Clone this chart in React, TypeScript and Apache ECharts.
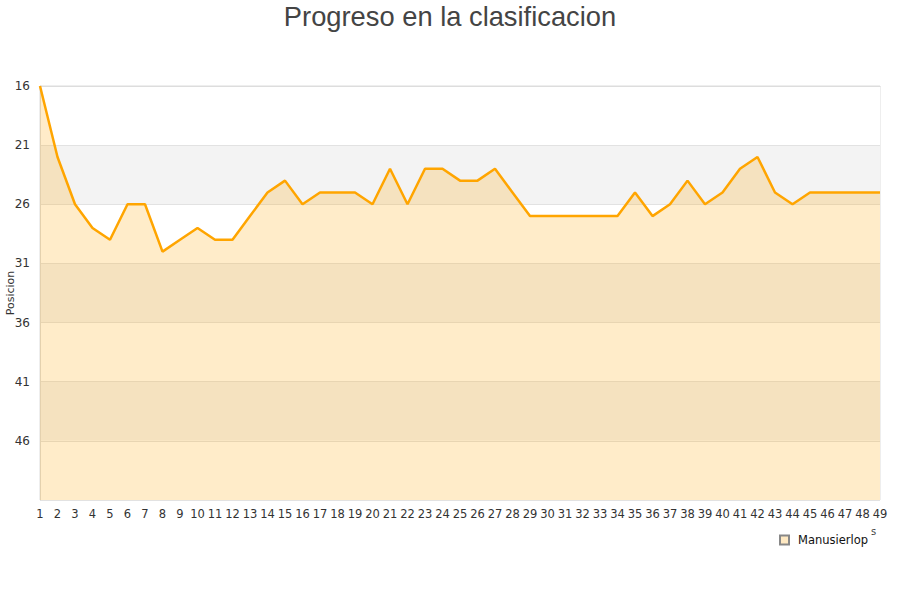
import React, { useEffect, useRef } from "react";
import * as echarts from "echarts";

const TITLE = "Progreso en la clasificacion";
const SERIES_NAME = "Manusierlop";
const Y_NAME = "Posicion";
const Y_MIN = 16;
const Y_MAX = 51;
const Y_STEP = 5;

const jornadas: string[] = Array.from({ length: 49 }, (_, i) => String(i + 1));

const posiciones: number[] = [
  16, 22, 26, 28, 29, 26, 26, 30, 29, 28,
  29, 29, 27, 25, 24, 26, 25, 25, 25, 26,
  23, 26, 23, 23, 24, 24, 23, 25, 27, 27,
  27, 27, 27, 27, 25, 27, 26, 24, 26, 25,
  23, 22, 25, 26, 25, 25, 25, 25, 25,
];

export default function App() {
  const ref = useRef<HTMLDivElement>(null);
  useEffect(() => {
    if (!ref.current) return;
    const chart = echarts.init(ref.current, null, { renderer: "svg" });
    const shifted = posiciones.map((v) => v - Y_MIN);
    chart.setOption({
      animation: false,
      backgroundColor: "#ffffff",
      title: {
        text: TITLE,
        left: "center",
        top: -2,
        textStyle: {
          fontFamily: "Liberation Sans",
          fontSize: 27.3,
          fontWeight: "normal",
          color: "#444444",
        },
      },
      legend: {
        data: [SERIES_NAME],
        left: 774,
        top: 529,
        itemWidth: 9,
        itemHeight: 9,
        itemGap: 8,
        icon: "rect",
        textStyle: {
          fontFamily: "DejaVu Sans",
          fontSize: 11.5,
          color: "#111",
          padding: [0, 0, 0, 4],
        },
      },
      grid: {
        left: 40,
        right: 20,
        top: 86,
        bottom: 100,
        show: true,
        borderColor: "#dddddd",
        borderWidth: 1,
        containLabel: false,
        outerBoundsMode: "none",
      },
      xAxis: {
        type: "category",
        data: jornadas,
        boundaryGap: false,
        axisTick: { show: false },
        axisLine: { lineStyle: { color: "#dddddd" } },
        axisLabel: {
          interval: 0,
          margin: 8,
          fontFamily: "DejaVu Sans",
          fontSize: 11.5,
          color: "#333333",
        },
        splitLine: { show: false },
      },
      yAxis: {
        type: "value",
        inverse: true,
        min: 0,
        max: Y_MAX - Y_MIN,
        interval: Y_STEP,
        name: Y_NAME,
        nameLocation: "middle",
        nameGap: 24,
        nameMoveOverlap: false,
        nameTextStyle: { fontFamily: "DejaVu Sans", fontSize: 11, color: "#333" },
        axisLine: { show: true, lineStyle: { color: "#dddddd" } },
        axisTick: { show: false },
        axisLabel: {
          showMaxLabel: false,
          margin: 10,
          fontFamily: "DejaVu Sans",
          fontSize: 12,
          color: "#333333",
          formatter: (v: number) => String(v + Y_MIN),
        },
        splitLine: { show: true, lineStyle: { color: "#e2e2e2" } },
        splitArea: { show: true, areaStyle: { color: ["#ffffff", "#f3f3f3"] } },
      },
      graphic: [
        {
          type: "text",
          left: 871,
          top: 526,
          style: { text: "s", fontFamily: "DejaVu Sans", fontSize: 10, fill: "#444" },
        },
      ],
      series: [
        {
          name: SERIES_NAME,
          type: "line",
          data: shifted,
          showSymbol: false,
          symbol: "none",
          lineStyle: { color: "#ffa500", width: 2.5 },
          itemStyle: { color: "#ffe9c2", borderColor: "#888", borderWidth: 1 },
          areaStyle: { color: "#ffa500", opacity: 0.21, origin: "end" },
        },
      ],
    });
    return () => chart.dispose();
  }, []);
  return <div ref={ref} style={{ width: 900, height: 600, position: "absolute", left: 0, top: 0 }} />;
}
